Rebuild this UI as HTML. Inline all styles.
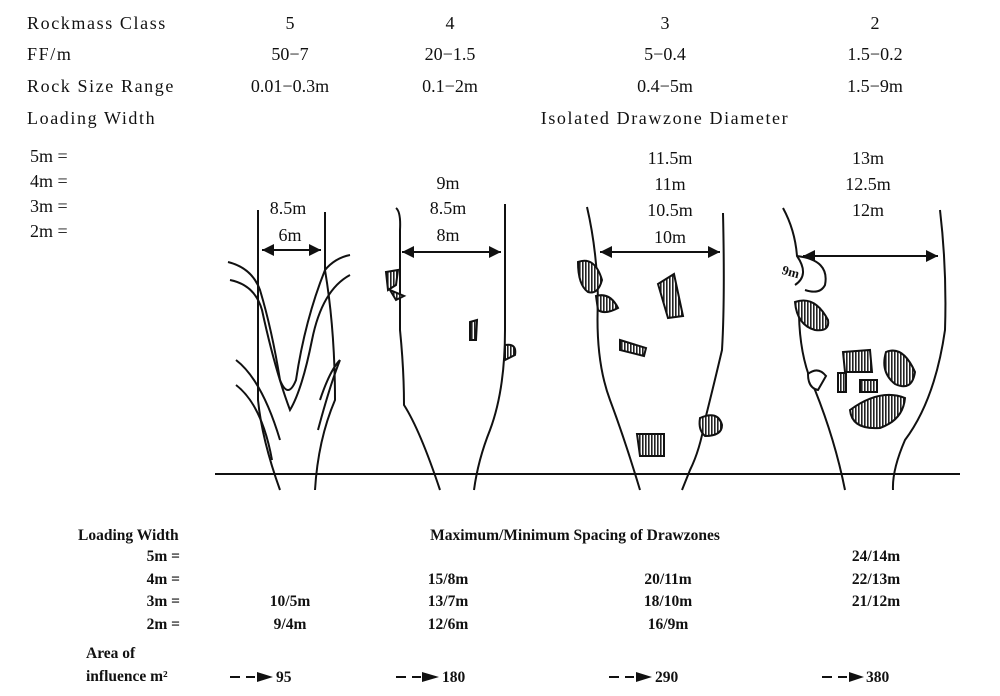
<!DOCTYPE html>
<html><head><style>
html,body{margin:0;padding:0;background:#fff;}
svg{display:block;}
text{font-family:"Liberation Serif",serif;fill:#111;}
.t{font-size:18px;}
.w{letter-spacing:1.6px;}
.s{font-size:15.5px;font-weight:bold;}
</style></head><body>
<svg width="1000" height="696" viewBox="0 0 1000 696" xmlns="http://www.w3.org/2000/svg">
<defs>
<pattern id="h" width="3" height="3" patternUnits="userSpaceOnUse"><rect width="3" height="3" fill="#fff"/><rect width="1.6" height="3" fill="#222"/></pattern>
<marker id="a" viewBox="0 0 10 10" refX="10" refY="5" markerWidth="8" markerHeight="6" orient="auto-start-reverse"><path d="M0,0L10,5L0,10z" fill="#111"/></marker>
</defs>
<g class="t">
<g class="w">
<text x="27" y="29">Rockmass Class</text>
<text x="27" y="60">FF/m</text>
<text x="27" y="92">Rock Size Range</text>
<text x="27" y="124">Loading Width</text>
</g>
<text x="30" y="162">5m =</text>
<text x="30" y="187">4m =</text>
<text x="30" y="212">3m =</text>
<text x="30" y="237">2m =</text>
<g text-anchor="middle">
<text x="290" y="29">5</text><text x="450" y="29">4</text><text x="665" y="29">3</text><text x="875" y="29">2</text>
<text x="290" y="60">50−7</text><text x="450" y="60">20−1.5</text><text x="665" y="60">5−0.4</text><text x="875" y="60">1.5−0.2</text>
<text x="290" y="92">0.01−0.3m</text><text x="450" y="92">0.1−2m</text><text x="665" y="92">0.4−5m</text><text x="875" y="92">1.5−9m</text>
<text x="665" y="124" class="w">Isolated Drawzone Diameter</text>
<text x="288" y="214">8.5m</text><text x="290" y="241">6m</text>
<text x="448" y="189">9m</text><text x="448" y="214">8.5m</text><text x="448" y="241">8m</text>
<text x="670" y="164">11.5m</text><text x="670" y="190">11m</text><text x="670" y="216">10.5m</text><text x="670" y="243">10m</text>
<text x="868" y="164">13m</text><text x="868" y="190">12.5m</text><text x="868" y="216">12m</text>
</g>
</g>
<g fill="none" stroke="#111" stroke-width="2">
<line x1="215" y1="474" x2="960" y2="474"/>
<path d="M258,210 L258,400 Q262,440 280,490"/>
<path d="M325,212 L325,270 Q335,330 335,400 Q318,440 315,490"/>
<path d="M228,262 Q252,268 260,290 Q272,330 280,380 Q288,400 296,380 Q305,320 325,270 Q335,258 350,255"/>
<path d="M230,280 Q255,285 262,310 Q275,370 290,410 Q302,390 312,340 Q322,290 350,275"/>
<path d="M236,360 Q262,380 280,440 M236,385 Q262,405 272,460 M318,430 Q330,385 340,360 M320,400 Q330,370 340,360"/>
<line x1="262" y1="250" x2="321" y2="250" marker-start="url(#a)" marker-end="url(#a)"/>
<path d="M396,208 Q401,212 400,230 L400,330 Q404,370 404,405 Q420,430 440,490"/>
<path d="M505,204 L505,330 Q505,390 490,430 Q478,460 474,490"/>
<line x1="402" y1="252" x2="501" y2="252" marker-start="url(#a)" marker-end="url(#a)"/>
<path d="M587,207 Q597,250 598,300 Q595,360 610,400 Q625,440 640,490"/>
<path d="M723,213 Q725,300 722,350 Q715,380 705,420 Q700,450 690,470 L682,490"/>
<line x1="600" y1="252" x2="720" y2="252" marker-start="url(#a)" marker-end="url(#a)"/>
<path d="M783,208 Q795,230 797,256 Q810,275 795,285 M797,256 Q830,260 825,285 Q820,295 805,290"/>
<path d="M799,315 Q800,360 815,390 Q835,440 845,490"/>
<path d="M940,210 Q947,270 945,330 Q935,400 905,440 Q892,470 893,490"/>
<line x1="803" y1="256" x2="938" y2="256" marker-start="url(#a)" marker-end="url(#a)"/>
</g>
<g fill="url(#h)" stroke="#111" stroke-width="2">
<path d="M386,272 L398,270 L396,285 L388,290 Z M390,290 L404,296 L396,300 Z"/>
<path d="M470,322 L477,320 L476,340 L470,340 Z"/>
<path d="M505,345 Q517,343 515,355 L505,360 Z"/>
<path d="M578,262 Q595,256 602,280 Q598,295 588,292 Q578,285 578,262 Z"/>
<path d="M596,296 Q610,292 618,308 Q605,315 598,310 Z"/>
<path d="M658,284 L674,274 L683,316 L668,318 Z"/>
<path d="M620,340 L646,348 L644,356 L620,350 Z"/>
<path d="M637,434 L664,434 L664,456 L640,456 Z"/>
<path d="M700,418 Q718,410 722,425 Q722,436 705,436 Q698,430 700,418 Z"/>
<path d="M795,302 Q815,295 828,320 Q830,332 815,330 Q797,325 795,302 Z"/>
<path d="M843,352 L870,350 L872,372 L845,372 Z"/>
<path d="M886,352 Q903,345 915,372 Q912,392 895,384 Q880,372 886,352 Z"/>
<path d="M860,380 L877,380 L877,392 L860,392 Z"/>
<path d="M838,373 L846,373 L846,392 L838,392 Z"/>
<path d="M850,410 Q880,388 905,398 Q903,420 880,428 Q852,430 850,410 Z"/>
</g>
<path d="M808,374 Q818,366 826,376 L818,390 Q808,388 808,374 Z" fill="#fff" stroke="#111" stroke-width="2"/>
<text x="782" y="276" style="font-size:13px;font-weight:bold" transform="rotate(15 790 272)">9m</text>
<g class="s">
<text x="78" y="540">Loading Width</text>
<text x="575" y="540" text-anchor="middle">Maximum/Minimum Spacing of Drawzones</text>
<g text-anchor="end"><text x="180" y="561">5m =</text><text x="180" y="584">4m =</text><text x="180" y="606">3m =</text><text x="180" y="629">2m =</text></g>
<g text-anchor="middle">
<text x="290" y="606">10/5m</text><text x="290" y="629">9/4m</text>
<text x="448" y="584">15/8m</text><text x="448" y="606">13/7m</text><text x="448" y="629">12/6m</text>
<text x="668" y="584">20/11m</text><text x="668" y="606">18/10m</text><text x="668" y="629">16/9m</text>
<text x="876" y="561">24/14m</text><text x="876" y="584">22/13m</text><text x="876" y="606">21/12m</text>
</g>
<text x="86" y="658">Area of</text>
<text x="86" y="681">influence m²</text>
<text x="276" y="682">95</text><text x="442" y="682">180</text><text x="655" y="682">290</text><text x="866" y="682">380</text>
</g>
<g stroke="#111" stroke-width="2">
<line x1="230" y1="677" x2="240" y2="677"/><line x1="246" y1="677" x2="255" y2="677"/>
<line x1="396" y1="677" x2="406" y2="677"/><line x1="412" y1="677" x2="421" y2="677"/>
<line x1="609" y1="677" x2="619" y2="677"/><line x1="625" y1="677" x2="634" y2="677"/>
<line x1="822" y1="677" x2="832" y2="677"/><line x1="838" y1="677" x2="847" y2="677"/>
</g>
<g fill="#111">
<path d="M257,672 L273,677 L257,682 Z"/><path d="M422,672 L439,677 L422,682 Z"/>
<path d="M636,672 L652,677 L636,682 Z"/><path d="M849,672 L864,677 L849,682 Z"/>
</g>
</svg>
</body></html>
